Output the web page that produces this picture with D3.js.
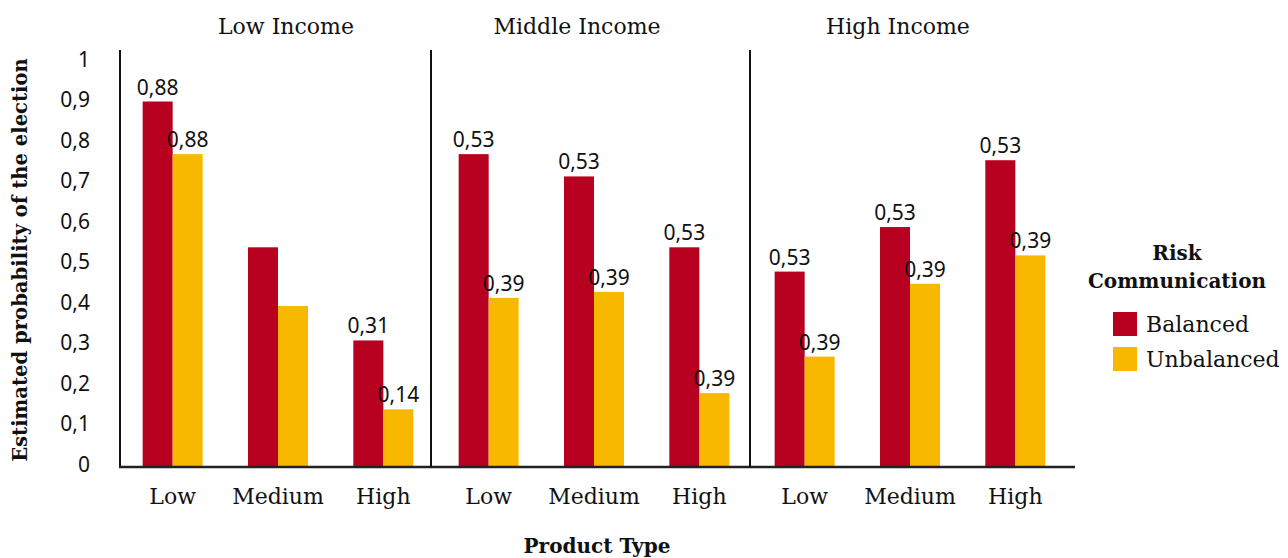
<!DOCTYPE html>
<html>
<head>
<meta charset="utf-8">
<script src="https://cdn.jsdelivr.net/npm/d3@7"></script>
<style>
	body { margin: 0; background: #fff; }
	.serif { font-family: "DejaVu Serif", serif; fill: #111; }
	.sans { font-family: "Noto Sans", sans-serif; fill: #111; }
</style>
</head>
<body>
<svg id="chart" width="1288" height="558"></svg>
<script>
// Data
var incomes = ["Low Income", "Middle Income", "High Income"];
var productTypes = ["Low", "Medium", "High"];
var series = ["Balanced", "Unbalanced"];
var balanced = [0.90, 0.54, 0.31, 0.77, 0.715, 0.54, 0.48, 0.59, 0.755];
var unbalanced = [0.77, 0.395, 0.14, 0.415, 0.43, 0.18, 0.27, 0.45, 0.52];
var balancedLabels = ["0,88", "", "0,31", "0,53", "0,53", "0,53", "0,53", "0,53", "0,53"];
var unbalancedLabels = ["0,88", "", "0,14", "0,39", "0,39", "0,39", "0,39", "0,39", "0,39"];
var yTicks = [0, 0.1, 0.2, 0.3, 0.4, 0.5, 0.6, 0.7, 0.8, 0.9, 1];

var colors = { Balanced: "#b80020", Unbalanced: "#f8b800" };
// small nudges so panel titles / dividers sit where the original has them
var titleShift = [8, -17, -12];
var dividerShift = [0, -5, -2];

// build rows
var rows = [];
incomes.forEach(function(inc, i) {
	productTypes.forEach(function(pt, j) {
		var k = i * 3 + j;
		rows.push({
			key: inc + "|" + pt, income: inc, type: pt,
			Balanced: balanced[k], Unbalanced: unbalanced[k],
			labels: { Balanced: balancedLabels[k], Unbalanced: unbalancedLabels[k] }
		});
	});
});

var svg = d3.select("#chart");

var x0 = d3.scaleBand()
	.domain(rows.map(d => d.key))
	.range([120, 1068]);

var x1 = d3.scaleBand()
	.domain(series)
	.range([0, x0.bandwidth()])
	.paddingOuter(0.755);

var yScale = d3.scaleLinear()
	.domain([0, 1])
	.range([466, 61]);

// bars
var groups = svg.append("g").selectAll("g")
	.data(rows)
	.enter().append("g")
	.attr("transform", d => `translate(${x0(d.key)},0)`);

groups.selectAll("rect")
	.data(d => series.map(s => ({ s: s, v: d[s], label: d.labels[s] })))
	.enter().append("rect")
	.attr("x", d => x1(d.s))
	.attr("width", x1.bandwidth())
	.attr("y", d => yScale(d.v))
	.attr("height", d => yScale(0) - yScale(d.v))
	.attr("fill", d => colors[d.s]);

groups.selectAll("text")
	.data(d => series.map(s => ({ s: s, v: d[s], label: d.labels[s] })))
	.enter().append("text")
	.attr("class", "sans")
	.attr("x", d => x1(d.s) + x1.bandwidth() / 2)
	.attr("y", d => yScale(d.v) - 7)
	.attr("text-anchor", "middle")
	.style("font-size", "21px")
	.text(d => d.label);

// y axis
var yAxis = d3.axisLeft(yScale)
	.tickValues(yTicks)
	.tickSize(0)
	.tickPadding(30)
	.tickFormat(d => String(d).replace(".", ","));

var yAxisGroup = svg.append("g")
	.attr("transform", "translate(120,0)")
	.call(yAxis);
yAxisGroup.select(".domain").remove();
yAxisGroup.selectAll("text")
	.attr("class", "sans")
	.attr("dy", "0.25em")
	.style("font-size", "21px")
	.attr("fill", "#111");

// x axis (product type per group)
var xAxis = d3.axisBottom(x0)
	.tickSize(0)
	.tickPadding(22)
	.tickFormat(k => k.split("|")[1]);

var xAxisGroup = svg.append("g")
	.attr("transform", `translate(0,${yScale(0)})`)
	.call(xAxis);
xAxisGroup.select(".domain").remove();
xAxisGroup.selectAll("text")
	.attr("class", "serif")
	.style("font-size", "22px")
	.attr("fill", "#111");

// frame lines
svg.append("line")
	.attr("x1", 120).attr("x2", 120)
	.attr("y1", 50).attr("y2", yScale(0) + 1)
	.attr("stroke", "#111").attr("stroke-width", 2);

svg.append("line")
	.attr("x1", 119).attr("x2", x0.range()[1] + 7)
	.attr("y1", yScale(0) + 1).attr("y2", yScale(0) + 1)
	.attr("stroke", "#222").attr("stroke-width", 2.5);

// panel dividers and titles
incomes.forEach(function(inc, i) {
	if (i > 0) {
		var xd = x0(inc + "|Low") + dividerShift[i];
		svg.append("line")
			.attr("x1", xd).attr("x2", xd)
			.attr("y1", 50).attr("y2", yScale(0) + 1)
			.attr("stroke", "#111").attr("stroke-width", 2);
	}
	svg.append("text")
		.attr("class", "serif")
		.attr("x", x0(inc + "|Medium") + x0.bandwidth() / 2 + titleShift[i])
		.attr("y", 34)
		.attr("text-anchor", "middle")
		.style("font-size", "22px")
		.text(inc);
});

// axis titles
svg.append("text")
	.attr("class", "serif")
	.attr("x", 597).attr("y", 553)
	.attr("text-anchor", "middle")
	.style("font-size", "20px")
	.style("font-weight", "bold")
	.text("Product Type");

svg.append("text")
	.attr("class", "serif")
	.attr("transform", "translate(27,260) rotate(-90)")
	.attr("text-anchor", "middle")
	.style("font-size", "19.6px")
	.style("font-weight", "bold")
	.text("Estimated probability of the election");

// legend
var legend = svg.append("g");
legend.append("text")
	.attr("class", "serif")
	.attr("x", 1177).attr("y", 260)
	.attr("text-anchor", "middle")
	.style("font-size", "20px").style("font-weight", "bold")
	.text("Risk");
legend.append("text")
	.attr("class", "serif")
	.attr("x", 1177).attr("y", 288)
	.attr("text-anchor", "middle")
	.style("font-size", "20px").style("font-weight", "bold")
	.text("Communication");

series.forEach(function(s, i) {
	var ly = 312 + i * 35;
	legend.append("rect")
		.attr("x", 1113).attr("y", ly)
		.attr("width", 24).attr("height", 24)
		.attr("fill", colors[s]);
	legend.append("text")
		.attr("class", "serif")
		.attr("x", 1146).attr("y", ly + 20)
		.style("font-size", "22px")
		.text(s);
});
</script>
</body>
</html>
